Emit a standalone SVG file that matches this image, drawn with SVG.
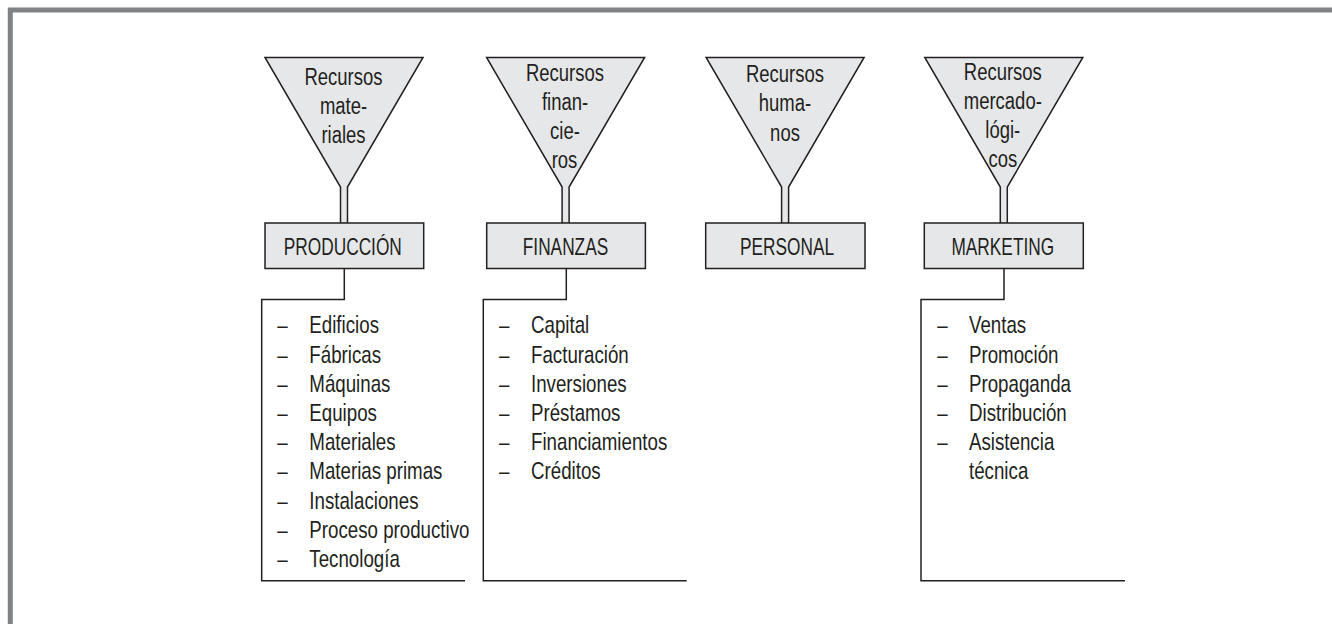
<svg xmlns="http://www.w3.org/2000/svg" xmlns:xlink="http://www.w3.org/1999/xlink" width="1332" height="624" viewBox="0 0 1332 624">
<style>
.frame{fill:none;stroke:#808285;stroke-width:5}
.shape{fill:#e6e7e8;stroke:#231f20;stroke-width:1.5;stroke-linejoin:miter}
.conn{fill:none;stroke:#231f20;stroke-width:1.5}
text{font-family:"Liberation Sans",Arial,sans-serif;font-size:24px;fill:#231f20}
.c{text-anchor:middle}
</style>
<defs>
<path id="funnel" d="M-79,57.5 H79 L3.5,187 V223.5 H-3.5 V187 Z"/>
</defs>
<rect width="1332" height="624" fill="#ffffff"/>
<path class="frame" d="M10.3,624 V10 H1332"/>
<g id="connectors">
<path class="conn" d="M344.3,268.5 V299.5 H261.7 V580.7 H465"/>
<path class="conn" d="M566.3,268.5 V299.5 H483.3 V580.7 H686.7"/>
<path class="conn" d="M1004,268.5 V299.5 H921 V580.7 H1125"/>
</g>
<g id="funnel-materiales">
<use href="#funnel" xlink:href="#funnel" class="shape" x="344" y="0"/>
<text class="c" transform="matrix(0.77,0,0,1,343.5,85)">Recursos</text>
<text class="c" transform="matrix(0.77,0,0,1,343.5,113.5)">mate-</text>
<text class="c" transform="matrix(0.77,0,0,1,343.5,142.5)">riales</text>
</g>
<g id="funnel-financieros">
<use href="#funnel" xlink:href="#funnel" class="shape" x="565.6" y="0"/>
<text class="c" transform="matrix(0.77,0,0,1,565,81)">Recursos</text>
<text class="c" transform="matrix(0.77,0,0,1,565,110)">finan-</text>
<text class="c" transform="matrix(0.77,0,0,1,565,139)">cie-</text>
<text class="c" transform="matrix(0.77,0,0,1,564.5,168)">ros</text>
</g>
<g id="funnel-humanos">
<use href="#funnel" xlink:href="#funnel" class="shape" x="785.1" y="0"/>
<text class="c" transform="matrix(0.77,0,0,1,785,81.5)">Recursos</text>
<text class="c" transform="matrix(0.77,0,0,1,785,111)">huma-</text>
<text class="c" transform="matrix(0.77,0,0,1,785,140.5)">nos</text>
</g>
<g id="funnel-mercadologicos">
<use href="#funnel" xlink:href="#funnel" class="shape" x="1003.8" y="0"/>
<text class="c" transform="matrix(0.77,0,0,1,1002.8,80)">Recursos</text>
<text class="c" transform="matrix(0.77,0,0,1,1002.8,109)">mercado-</text>
<text class="c" transform="matrix(0.77,0,0,1,1002.8,138.3)">lógi-</text>
<text class="c" transform="matrix(0.77,0,0,1,1002.8,167.3)">cos</text>
</g>
<g id="box-produccion">
<rect class="shape" x="265" y="223" width="158.7" height="45.5"/>
<text class="c" transform="matrix(0.72,0,0,1,342.8,254.5)">PRODUCCIÓN</text>
</g>
<g id="box-finanzas">
<rect class="shape" x="486.7" y="223" width="158.7" height="45.5"/>
<text class="c" transform="matrix(0.72,0,0,1,565.5,254.5)">FINANZAS</text>
</g>
<g id="box-personal">
<rect class="shape" x="705.7" y="223" width="159.3" height="45.5"/>
<text class="c" transform="matrix(0.72,0,0,1,787,255)">PERSONAL</text>
</g>
<g id="box-marketing">
<rect class="shape" x="924.3" y="223" width="159" height="45.5"/>
<text class="c" transform="matrix(0.72,0,0,1,1002.8,255)">MARKETING</text>
</g>
<g id="list-produccion">
<text transform="matrix(0.78,0,0,1,277.3,333.3)">–</text><text transform="matrix(0.78,0,0,1,309.3,333.3)">Edificios</text>
<text transform="matrix(0.78,0,0,1,277.3,362.5)">–</text><text transform="matrix(0.78,0,0,1,309.3,362.5)">Fábricas</text>
<text transform="matrix(0.78,0,0,1,277.3,391.7)">–</text><text transform="matrix(0.78,0,0,1,309.3,391.7)">Máquinas</text>
<text transform="matrix(0.78,0,0,1,277.3,420.9)">–</text><text transform="matrix(0.78,0,0,1,309.3,420.9)">Equipos</text>
<text transform="matrix(0.78,0,0,1,277.3,450.1)">–</text><text transform="matrix(0.78,0,0,1,309.3,450.1)">Materiales</text>
<text transform="matrix(0.78,0,0,1,277.3,479.3)">–</text><text transform="matrix(0.78,0,0,1,309.3,479.3)">Materias primas</text>
<text transform="matrix(0.78,0,0,1,277.3,508.5)">–</text><text transform="matrix(0.78,0,0,1,309.3,508.5)">Instalaciones</text>
<text transform="matrix(0.78,0,0,1,277.3,537.7)">–</text><text transform="matrix(0.78,0,0,1,309.3,537.7)">Proceso productivo</text>
<text transform="matrix(0.78,0,0,1,277.3,566.9)">–</text><text transform="matrix(0.78,0,0,1,309.3,566.9)">Tecnología</text>
</g>
<g id="list-finanzas">
<text transform="matrix(0.78,0,0,1,499,333.3)">–</text><text transform="matrix(0.78,0,0,1,531,333.3)">Capital</text>
<text transform="matrix(0.78,0,0,1,499,362.5)">–</text><text transform="matrix(0.78,0,0,1,531,362.5)">Facturación</text>
<text transform="matrix(0.78,0,0,1,499,391.7)">–</text><text transform="matrix(0.78,0,0,1,531,391.7)">Inversiones</text>
<text transform="matrix(0.78,0,0,1,499,420.9)">–</text><text transform="matrix(0.78,0,0,1,531,420.9)">Préstamos</text>
<text transform="matrix(0.78,0,0,1,499,450.1)">–</text><text transform="matrix(0.78,0,0,1,531,450.1)">Financiamientos</text>
<text transform="matrix(0.78,0,0,1,499,479.3)">–</text><text transform="matrix(0.78,0,0,1,531,479.3)">Créditos</text>
</g>
<g id="list-marketing">
<text transform="matrix(0.78,0,0,1,937.3,333.3)">–</text><text transform="matrix(0.78,0,0,1,969,333.3)">Ventas</text>
<text transform="matrix(0.78,0,0,1,937.3,362.5)">–</text><text transform="matrix(0.78,0,0,1,969,362.5)">Promoción</text>
<text transform="matrix(0.78,0,0,1,937.3,391.7)">–</text><text transform="matrix(0.78,0,0,1,969,391.7)">Propaganda</text>
<text transform="matrix(0.78,0,0,1,937.3,420.9)">–</text><text transform="matrix(0.78,0,0,1,969,420.9)">Distribución</text>
<text transform="matrix(0.78,0,0,1,937.3,450.1)">–</text><text transform="matrix(0.78,0,0,1,969,450.1)">Asistencia</text>
<text transform="matrix(0.78,0,0,1,969,479.3)">técnica</text>
</g>
</svg>
